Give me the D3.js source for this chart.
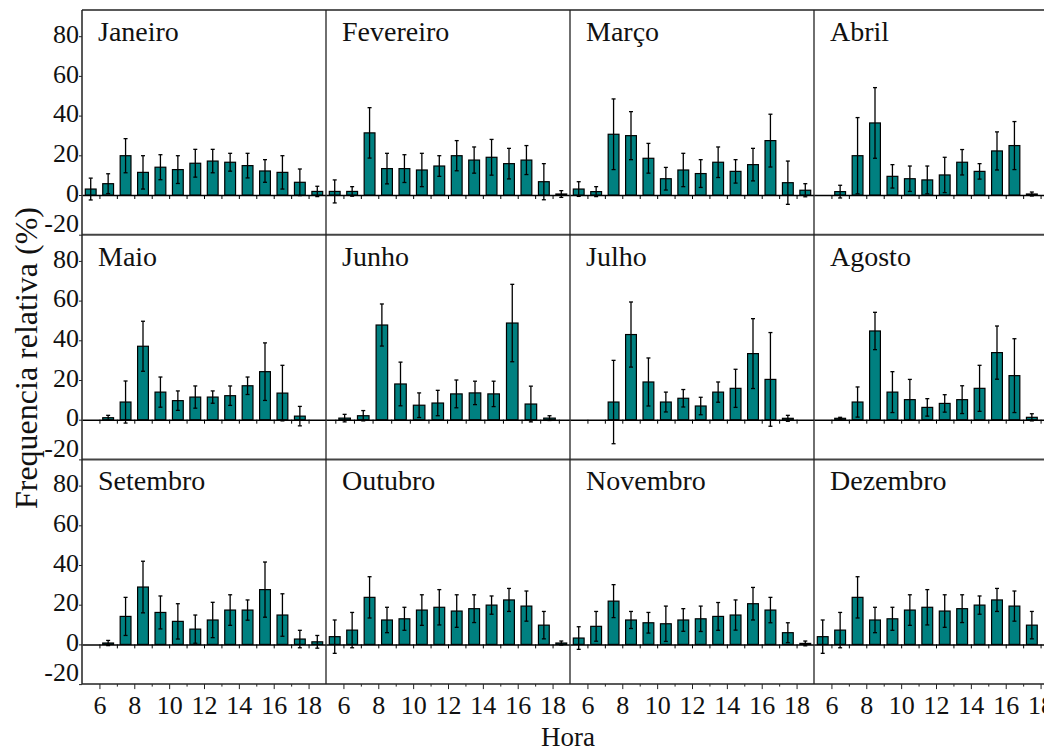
<!DOCTYPE html>
<html>
<head>
<meta charset="utf-8">
<script src="https://cdn.jsdelivr.net/npm/d3@7"></script>
<style>
  html, body { margin: 0; padding: 0; background: #fff; }
  svg { display: block; }
  svg text { font-family: 'Liberation Serif', 'DejaVu Serif', serif !important; }
</style>
</head>
<body>
<svg id="chart" width="1044" height="753"></svg>
<script>
// ---------- DATA ----------
const months = ["Janeiro","Fevereiro","Março","Abril","Maio","Junho","Julho","Agosto","Setembro","Outubro","Novembro","Dezembro"];
// bar slots: hour h, bar drawn over [h, h+1]
const hours = [5,6,7,8,9,10,11,12,13,14,15,16,17,18];
const yTicks = [-20,0,20,40,60,80];
const xTicks = [6,7,8,9,10,11,12,13,14,15,16,17,18];

const janeiro      = [3.0, 5.7, 19.8, 11.4, 14.0, 12.8, 16.0, 17.1, 16.5, 14.8, 12.1, 11.4, 6.4, 1.8];
const janeiroErr   = [5.5, 5.0, 8.6, 8.4, 6.3, 7.0, 7.0, 5.9, 4.5, 6.2, 5.7, 8.4, 6.7, 2.6];
const fevereiro    = [1.8, 1.8, 31.3, 13.3, 13.3, 12.6, 14.6, 19.8, 17.6, 19.0, 15.8, 17.6, 6.7, 0.5];
const fevereiroErr = [5.8, 2.4, 12.7, 7.7, 7.0, 8.4, 5.2, 7.6, 6.6, 9.0, 7.7, 7.3, 9.1, 1.7];
const marco        = [3.0, 1.7, 30.6, 29.9, 18.5, 8.2, 12.6, 10.8, 16.5, 11.9, 15.3, 27.4, 6.2, 2.4];
const marcoErr     = [3.7, 2.5, 17.8, 12.1, 7.5, 5.7, 8.4, 7.0, 7.7, 5.9, 8.2, 13.3, 10.9, 3.3];
const abril        = [null, 1.7, 19.8, 36.3, 9.4, 8.2, 7.6, 10.1, 16.5, 11.9, 22.2, 24.9, 0.5, null];
const abrilErr     = [null, 3.2, 19.2, 17.8, 5.9, 6.4, 7.0, 8.9, 6.4, 3.9, 9.6, 12.1, 1.0, null];
const maio         = [null, 1.0, 8.9, 37.0, 13.9, 9.6, 11.4, 11.4, 12.1, 17.1, 24.2, 13.4, 1.8, null];
const maioErr      = [null, 1.2, 10.6, 12.6, 7.6, 4.9, 5.6, 3.1, 4.9, 4.4, 14.5, 14.0, 4.9, null];
const junho        = [null, 0.8, 2.0, 47.7, 18.0, 7.3, 8.4, 13.0, 13.5, 13.0, 48.7, 7.9, 0.8, null];
const junhoErr     = [null, 1.9, 2.6, 10.6, 11.0, 6.2, 6.4, 7.0, 5.9, 6.4, 19.5, 9.0, 1.2, null];
const julho        = [null, null, 8.9, 42.9, 19.0, 8.9, 10.8, 6.9, 13.9, 15.8, 33.3, 20.3, 0.7, null];
const julhoErr     = [null, null, 21.0, 16.4, 12.1, 5.0, 4.4, 4.4, 5.1, 9.6, 17.6, 23.6, 1.5, null];
const agosto       = [null, 0.7, 8.9, 44.7, 13.9, 10.1, 6.2, 8.2, 10.1, 15.8, 33.8, 22.2, 1.2, null];
const agostoErr    = [null, 0.5, 7.6, 9.4, 10.3, 10.2, 4.4, 4.4, 7.0, 11.6, 13.4, 18.6, 1.8, null];
const setembro     = [null, 0.7, 14.1, 28.9, 16.1, 11.6, 7.7, 12.3, 17.3, 17.3, 27.6, 14.8, 2.7, 1.3];
const setembroErr  = [null, 1.3, 9.6, 13.0, 8.3, 8.9, 7.1, 8.9, 7.7, 5.1, 13.9, 10.7, 4.4, 3.2];
const outubro      = [3.9, 7.2, 23.7, 12.3, 12.9, 17.3, 18.7, 16.8, 18.0, 19.8, 22.4, 19.3, 9.7, 0.7];
const outubroErr   = [8.4, 8.9, 10.4, 6.4, 5.8, 7.7, 8.9, 8.2, 7.0, 4.6, 5.8, 7.6, 6.9, 1.0];
const novembro     = [3.2, 9.1, 21.8, 12.3, 10.9, 10.4, 12.3, 12.9, 14.1, 14.8, 20.5, 17.3, 5.9, 0.5];
const novembroErr  = [5.7, 7.5, 8.3, 4.3, 5.2, 8.9, 5.7, 6.4, 7.0, 7.6, 8.2, 6.4, 5.0, 1.2];
const dezembro     = [3.9, 7.2, 23.7, 12.3, 12.9, 17.3, 18.7, 16.8, 18.0, 19.8, 22.4, 19.3, 9.7, null];
const dezembroErr  = [8.4, 8.9, 10.4, 6.4, 5.8, 7.7, 8.9, 8.2, 7.0, 4.6, 5.8, 7.6, 6.9, null];

const meanSeries = [janeiro, fevereiro, marco, abril, maio, junho, julho, agosto, setembro, outubro, novembro, dezembro];
const errSeries  = [janeiroErr, fevereiroErr, marcoErr, abrilErr, maioErr, junhoErr, julhoErr, agostoErr, setembroErr, outubroErr, novembroErr, dezembroErr];

// ---------- LAYOUT ----------
const left0 = 82, top0 = 10, panelW = 244, rowH = 224.7;
const yDomain = [-20, 93.2];
const xDomainStd = [5, 19];
const xDomainJunho = [5.5, 18.6];
const teal = "#008080";
const ink = "#111";

const svg = d3.select("#chart");
svg.append("rect").attr("width", 1044).attr("height", 753).attr("fill", "#fff");

const table = months.map((m, i) => ({
  month: m,
  col: i % 4,
  row: Math.floor(i / 4),
  bars: hours.map((h, k) => ({ h, v: meanSeries[i][k], e: errSeries[i][k] })).filter(d => d.v !== null)
}));

function styleText(sel, size) {
  sel.attr("font-family", null).attr("font-size", size).attr("fill", ink);
}

table.forEach(p => {
  const px = left0 + p.col * panelW;
  const py = top0 + p.row * rowH;
  const x = d3.scaleLinear().domain(p.month === "Junho" ? xDomainJunho : xDomainStd).range([px, px + panelW]);
  const y = d3.scaleLinear().domain(yDomain).range([py + rowH, py]);
  const step = x(1) - x(0);
  const bw = step * 0.62;
  const g = svg.append("g");

  // zero line with hour ticks
  const zeroAxis = g.append("g")
    .attr("transform", `translate(0,${y(0)})`)
    .call(d3.axisBottom(x).tickValues(xTicks).tickSize(4).tickSizeOuter(0).tickFormat(""));
  zeroAxis.select(".domain").attr("stroke", "#000").attr("stroke-width", 1.5);
  zeroAxis.selectAll(".tick line").attr("stroke", "#000").attr("stroke-width", 1);

  // bars
  g.selectAll("rect.bar").data(p.bars).join("rect")
    .attr("class", "bar")
    .attr("x", d => x(d.h + 0.5) - bw / 2)
    .attr("y", d => y(Math.max(0, d.v)))
    .attr("width", bw)
    .attr("height", d => Math.abs(y(d.v) - y(0)))
    .attr("fill", teal)
    .attr("stroke", "#000")
    .attr("stroke-width", 1.2);

  // error bars
  const eb = g.selectAll("g.err").data(p.bars).join("g").attr("class", "err")
    .attr("stroke", "#000").attr("stroke-width", 1.3);
  eb.append("line")
    .attr("x1", d => x(d.h + 0.5)).attr("x2", d => x(d.h + 0.5))
    .attr("y1", d => y(d.v - d.e)).attr("y2", d => y(d.v + d.e));
  eb.append("line")
    .attr("x1", d => x(d.h + 0.5) - 2).attr("x2", d => x(d.h + 0.5) + 2)
    .attr("y1", d => y(d.v + d.e)).attr("y2", d => y(d.v + d.e));
  eb.append("line")
    .attr("x1", d => x(d.h + 0.5) - 2).attr("x2", d => x(d.h + 0.5) + 2)
    .attr("y1", d => y(d.v - d.e)).attr("y2", d => y(d.v - d.e));

  // month label
  g.append("text")
    .attr("x", px + 16).attr("y", py + 31)
    .call(styleText, 28)
    .text(p.month);

  // y axis on first column
  if (p.col === 0) {
    const ya = svg.append("g").attr("transform", `translate(${left0},0)`)
      .call(d3.axisLeft(y).tickValues(yTicks).tickSize(3).tickSizeOuter(0).tickPadding(0)
        .tickFormat(d => String(d)));
    ya.attr("font-family", null);
    ya.select(".domain").remove();
    ya.selectAll(".tick line").attr("stroke", "#222");
    ya.selectAll(".tick text")
      .call(styleText, 26)
      .attr("dy", d => d === -20 ? "-0.12em" : "0.24em");
  }

  // bottom axis on last row
  if (p.row === 2) {
    const xa = svg.append("g").attr("transform", `translate(0,${py + rowH})`)
      .call(d3.axisBottom(x).tickValues(xTicks).tickSize(5).tickSizeOuter(0)
        .tickFormat(d => d % 2 === 0 ? String(d) : ""));
    xa.attr("font-family", null);
    xa.select(".domain").remove();
    xa.selectAll(".tick line").attr("stroke", "#222")
      .attr("y2", d => d % 2 === 0 ? 5 : 2.5);
    xa.selectAll(".tick text")
      .call(styleText, 26)
      .attr("y", 30).attr("dy", 0);
  }
});

// ---------- FRAME ----------
const bottom = top0 + 3 * rowH;
const frame = svg.append("g").attr("fill", "none");
frame.append("line").attr("x1", left0).attr("x2", 1044).attr("y1", top0).attr("y2", top0)
  .attr("stroke", "#222").attr("stroke-width", 1.5);
frame.append("line").attr("x1", left0).attr("x2", 1044).attr("y1", bottom).attr("y2", bottom)
  .attr("stroke", "#222").attr("stroke-width", 1.5);
[1, 2].forEach(r => {
  frame.append("line").attr("x1", left0).attr("x2", 1044)
    .attr("y1", top0 + r * rowH).attr("y2", top0 + r * rowH)
    .attr("stroke", "#444").attr("stroke-width", 2);
});
[0, 1, 2, 3].forEach(c => {
  frame.append("line").attr("x1", left0 + c * panelW).attr("x2", left0 + c * panelW)
    .attr("y1", top0).attr("y2", bottom)
    .attr("stroke", "#222").attr("stroke-width", c === 0 ? 1.5 : 1.3);
});

// ---------- AXIS TITLES ----------
svg.append("text")
  .attr("x", 568).attr("y", 746)
  .attr("text-anchor", "middle")
  .call(styleText, 27)
  .text("Hora");

svg.append("text")
  .attr("transform", "translate(37,358) rotate(-90)")
  .attr("text-anchor", "middle")
  .call(styleText, 32)
  .text("Frequencia relativa (%)");
</script>
</body>
</html>
